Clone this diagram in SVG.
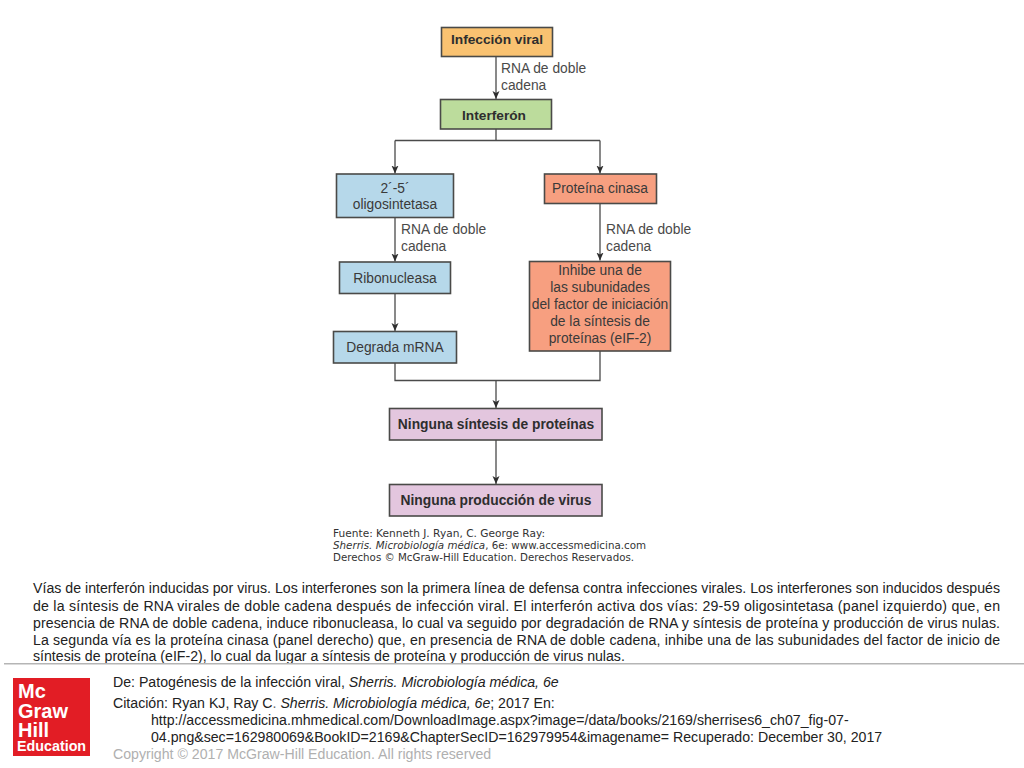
<svg xmlns="http://www.w3.org/2000/svg" width="1024" height="768" viewBox="0 0 1024 768">
<style>
text{font-family:"Liberation Sans",Arial,sans-serif}
.box{stroke:#4a4a48;stroke-width:1.6}
.lbl{font-size:13.8px;fill:#3a3a3a;text-anchor:middle}
.b{font-size:13.7px;font-weight:bold;fill:#2e2e2e;text-anchor:middle}
.b2{font-size:13.8px;font-weight:bold;fill:#2e2e2e;text-anchor:middle}
.rna{font-size:13.8px;fill:#4a4a4a}
.con{fill:none;stroke:#4a4a4a;stroke-width:1.3}
.src{font-family:"DejaVu Sans",sans-serif;font-size:9.6px;fill:#333}
.cap{font-size:14.15px;fill:#222}
.cit{font-size:14.15px;fill:#222}
</style>
<defs><marker id="ah" markerUnits="userSpaceOnUse" markerWidth="9" markerHeight="9" refX="8" refY="4" orient="auto"><path d="M0 0.500L8 4L0 7.500L2 4Z" fill="#2e2e2e"/></marker></defs>
<rect width="1024" height="768" fill="#fff"/>
<g id="connectors">
<path class="con" marker-end="url(#ah)" d="M496 56V99"/>
<path class="con" d="M496 129V140.500M395 140.500H600"/>
<path class="con" marker-end="url(#ah)" d="M395 140.500V173.500"/>
<path class="con" marker-end="url(#ah)" d="M600 140.500V173.500"/>
<path class="con" marker-end="url(#ah)" d="M395 217V261.500"/>
<path class="con" marker-end="url(#ah)" d="M600 203V260.500"/>
<path class="con" marker-end="url(#ah)" d="M395 293V331"/>
<path class="con" d="M395 363V380.500H600V351"/>
<path class="con" marker-end="url(#ah)" d="M496 380.500V408"/>
<path class="con" marker-end="url(#ah)" d="M496 440V484"/>
</g>
<g id="label-rna-1"><text class="rna" x="501" y="73">RNA de doble</text><text class="rna" x="501" y="90">cadena</text></g>
<g id="label-rna-2"><text class="rna" x="401" y="234">RNA de doble</text><text class="rna" x="401" y="251">cadena</text></g>
<g id="label-rna-3"><text class="rna" x="606" y="234">RNA de doble</text><text class="rna" x="606" y="251">cadena</text></g>
<g id="n-infeccion"><rect class="box" x="441.500" y="27.500" width="111" height="29" fill="#f9c271"/><text class="b" x="497" y="44">Infección viral</text></g>
<g id="n-interferon"><rect class="box" x="440.500" y="99.500" width="111" height="29.500" fill="#bcdc9c"/><text class="b" x="494" y="120">Interferón</text></g>
<g id="n-oligo"><rect class="box" x="336.500" y="174" width="117" height="43.500" fill="#b6d8ea"/><text class="lbl" x="395" y="193">2´-5´</text><text class="lbl" x="395" y="209">oligosintetasa</text></g>
<g id="n-cinasa"><rect class="box" x="544.500" y="174" width="112" height="29.500" fill="#f79f80"/><text class="lbl" x="600" y="193">Proteína cinasa</text></g>
<g id="n-ribo"><rect class="box" x="339.500" y="262" width="111" height="31.500" fill="#b6d8ea"/><text class="lbl" x="395" y="283">Ribonucleasa</text></g>
<g id="n-inhibe"><rect class="box" x="529.500" y="261.500" width="141" height="89.500" fill="#f79f80"/>
<text class="lbl" x="600" y="275">Inhibe una de</text><text class="lbl" x="600" y="292">las subunidades</text><text class="lbl" x="600" y="309">del factor de iniciación</text><text class="lbl" x="600" y="326">de la síntesis de</text><text class="lbl" x="600" y="343">proteínas (eIF-2)</text></g>
<g id="n-degrada"><rect class="box" x="333.500" y="331.500" width="123" height="31.500" fill="#b6d8ea"/><text class="lbl" x="395" y="352">Degrada mRNA</text></g>
<g id="n-sintesis"><rect class="box" x="389.500" y="408.500" width="212.500" height="31.500" fill="#e3c6de"/><text class="b2" x="496" y="429">Ninguna síntesis de proteínas</text></g>
<g id="n-virus"><rect class="box" x="389.500" y="484.500" width="212.500" height="31.500" fill="#e3c6de"/><text class="b2" x="496" y="505">Ninguna producción de virus</text></g>
<g id="source">
<text class="src" x="333" y="537" textLength="212" lengthAdjust="spacingAndGlyphs">Fuente: Kenneth J. Ryan, C. George Ray:</text>
<text class="src" x="333" y="549" textLength="313" lengthAdjust="spacingAndGlyphs"><tspan font-style="italic">Sherris. Microbiología médica</tspan>, 6e: www.accessmedicina.com</text>
<text class="src" x="333" y="561" textLength="301" lengthAdjust="spacingAndGlyphs">Derechos © McGraw-Hill Education. Derechos Reservados.</text>
</g>
<g id="caption">
<text class="cap" x="33" y="593" textLength="967" lengthAdjust="spacing">Vías de interferón inducidas por virus. Los interferones son la primera línea de defensa contra infecciones virales. Los interferones son inducidos después</text>
<text class="cap" x="33" y="611" textLength="967" lengthAdjust="spacing">de la síntesis de RNA virales de doble cadena después de infección viral. El interferón activa dos vías: 29-59 oligosintetasa (panel izquierdo) que, en</text>
<text class="cap" x="33" y="628" textLength="967" lengthAdjust="spacing">presencia de RNA de doble cadena, induce ribonucleasa, lo cual va seguido por degradación de RNA y síntesis de proteína y producción de virus nulas.</text>
<text class="cap" x="33" y="645" textLength="967" lengthAdjust="spacing">La segunda vía es la proteína cinasa (panel derecho) que, en presencia de RNA de doble cadena, inhibe una de las subunidades del factor de inicio de</text>
<text class="cap" x="33" y="661">síntesis de proteína (eIF-2), lo cual da lugar a síntesis de proteína y producción de virus nulas.</text>
</g>
<rect id="rule" x="4" y="663" width="1020" height="1.500" fill="#b5b5b5"/>
<g id="logo"><rect x="13" y="678" width="77" height="78" fill="#e21d25"/>
<text fill="#fff" font-weight="bold" x="18" y="698" font-size="20px">Mc<tspan x="18" y="718">Graw</tspan><tspan x="18" y="737">Hill</tspan><tspan x="17" y="751" font-size="14.300px">Education</tspan></text></g>
<g id="citation">
<text class="cit" x="113" y="687">De: Patogénesis de la infección viral, <tspan font-style="italic">Sherris. Microbiología médica, 6e</tspan></text>
<text class="cit" x="113" y="708">Citación: Ryan KJ, Ray C<tspan fill="#666">.</tspan> <tspan font-style="italic">Sherris. Microbiología médica, 6e</tspan>; 2017 En:</text>
<text class="cit" x="151" y="725">http://accessmedicina.mhmedical.com/DownloadImage.aspx?image=/data/books/2169/sherrises6_ch07_fig-07-</text>
<text class="cit" x="151" y="742">04.png&amp;sec=162980069&amp;BookID=2169&amp;ChapterSecID=162979954&amp;imagename= Recuperado: December 30, 2017</text>
<text class="cit" x="113" y="759" style="fill:#b0b0b0">Copyright © 2017 McGraw-Hill Education. All rights reserved</text>
</g>
</svg>
